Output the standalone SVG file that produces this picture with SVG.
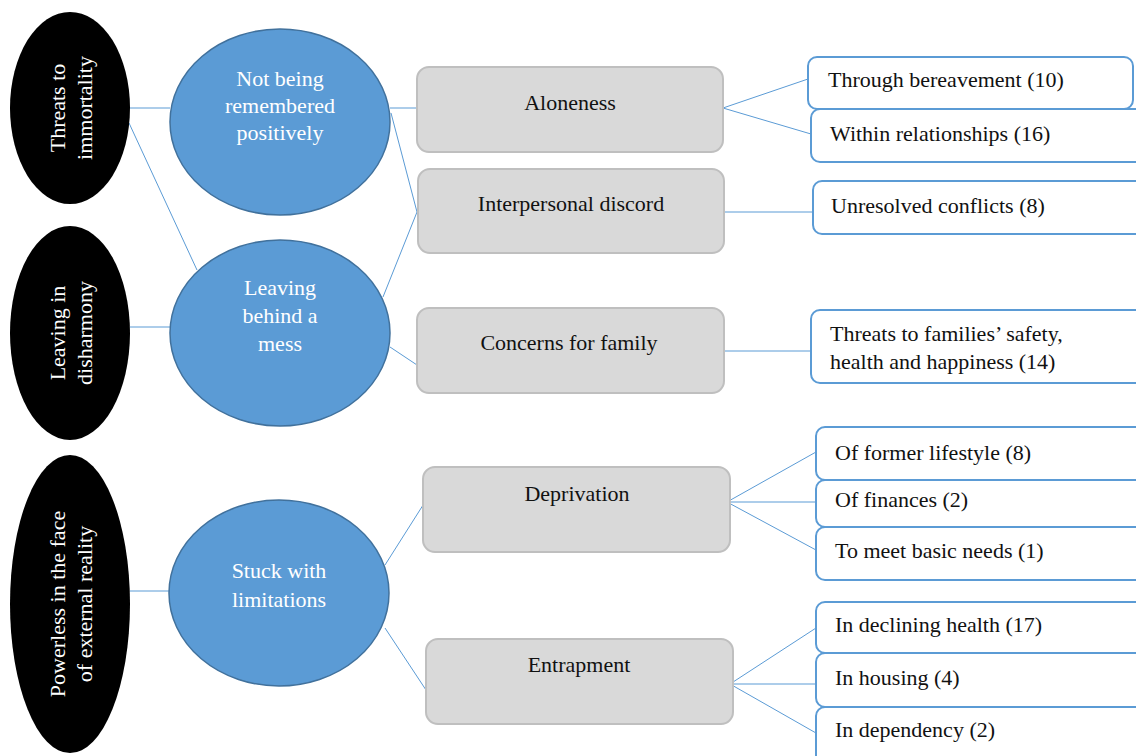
<svg xmlns="http://www.w3.org/2000/svg" width="1136" height="756" viewBox="0 0 1136 756">
<style>
text{font-family:"Liberation Serif","Times New Roman",serif;font-size:22px;}
.blk{fill:#000;}
.blu{fill:#5b9bd5;stroke:#41719c;stroke-width:1.5;}
.gry{fill:#d9d9d9;stroke:#bfbfbf;stroke-width:2;}
.wht{fill:#fff;stroke:#5b9bd5;stroke-width:2;}
.wt{fill:#fff;text-anchor:middle;}
.gt{fill:#111;text-anchor:middle;}
.rt{fill:#111;}
.cn line{stroke:#5b9bd5;stroke-width:1;}
</style>
<rect width="1136" height="756" fill="#fff"/>
<g class="cn" id="connectors">
<line x1="130" y1="108" x2="170" y2="108"/>
<line x1="129" y1="123" x2="197" y2="270"/>
<line x1="130" y1="327" x2="170" y2="327"/>
<line x1="130" y1="591" x2="169" y2="591"/>
<line x1="390" y1="108" x2="417" y2="108"/>
<line x1="391" y1="113" x2="417" y2="212"/>
<line x1="383" y1="297" x2="417" y2="212"/>
<line x1="390" y1="347" x2="417" y2="365"/>
<line x1="385" y1="565" x2="425" y2="502"/>
<line x1="385" y1="628" x2="426" y2="690"/>
<line x1="723" y1="108" x2="808" y2="79"/>
<line x1="723" y1="108" x2="811" y2="134"/>
<line x1="724" y1="212" x2="813" y2="212"/>
<line x1="724" y1="351" x2="811" y2="351"/>
<line x1="727" y1="502" x2="816" y2="452"/>
<line x1="727" y1="502" x2="816" y2="502"/>
<line x1="727" y1="502" x2="816" y2="550"/>
<line x1="730" y1="684" x2="816" y2="628"/>
<line x1="730" y1="684" x2="816" y2="684"/>
<line x1="730" y1="684" x2="816" y2="733"/>
</g>
<g id="threats-immortality">
<ellipse class="blk" cx="70" cy="108" rx="60" ry="96"/>
<text class="wt" transform="rotate(-90 70 108)"><tspan x="70" y="103">Threats to</tspan><tspan x="70" y="130">immortality</tspan></text>
</g>
<g id="leaving-disharmony">
<ellipse class="blk" cx="70" cy="333" rx="60" ry="107"/>
<text class="wt" transform="rotate(-90 70 333)"><tspan x="70" y="328">Leaving in</tspan><tspan x="70" y="355">disharmony</tspan></text>
</g>
<g id="powerless">
<ellipse class="blk" cx="70" cy="604" rx="60" ry="149"/>
<text class="wt" transform="rotate(-90 70 604)"><tspan x="70" y="599">Powerless in the face</tspan><tspan x="70" y="626">of external reality</tspan></text>
</g>
<g id="not-remembered">
<ellipse class="blu" cx="280" cy="122" rx="110" ry="93"/>
<text class="wt"><tspan x="280" y="86">Not being</tspan><tspan x="280" y="113">remembered</tspan><tspan x="280" y="140">positively</tspan></text>
</g>
<g id="leaving-mess">
<ellipse class="blu" cx="280" cy="333" rx="110" ry="93"/>
<text class="wt"><tspan x="280" y="295">Leaving</tspan><tspan x="280" y="323">behind a</tspan><tspan x="280" y="351">mess</tspan></text>
</g>
<g id="stuck-limitations">
<ellipse class="blu" cx="279" cy="593" rx="110" ry="93"/>
<text class="wt"><tspan x="279" y="578">Stuck with</tspan><tspan x="279" y="607">limitations</tspan></text>
</g>
<g id="aloneness">
<rect class="gry" x="417" y="67" width="306" height="85" rx="12"/>
<text class="gt" x="570" y="110">Aloneness</text>
</g>
<g id="interpersonal-discord">
<rect class="gry" x="418" y="169" width="306" height="84" rx="12"/>
<text class="gt" x="571" y="211">Interpersonal discord</text>
</g>
<g id="concerns-family">
<rect class="gry" x="417" y="308" width="307" height="85" rx="12"/>
<text class="gt" x="569" y="350">Concerns for family</text>
</g>
<g id="deprivation">
<rect class="gry" x="423" y="467" width="307" height="85" rx="12"/>
<text class="gt" x="577" y="501">Deprivation</text>
</g>
<g id="entrapment">
<rect class="gry" x="426" y="639" width="307" height="85" rx="12"/>
<text class="gt" x="579" y="672">Entrapment</text>
</g>
<g id="through-bereavement">
<rect class="wht" x="808" y="57" width="325" height="52" rx="9"/>
<text class="rt" x="828" y="87">Through bereavement (10)</text>
</g>
<g id="within-relationships">
<rect class="wht" x="811" y="109" width="340" height="53" rx="9"/>
<text class="rt" x="830" y="141">Within relationships (16)</text>
</g>
<g id="unresolved-conflicts">
<rect class="wht" x="813" y="181" width="340" height="53" rx="9"/>
<text class="rt" x="831" y="213">Unresolved conflicts (8)</text>
</g>
<g id="threats-families">
<rect class="wht" x="811" y="310" width="340" height="73" rx="9"/>
<text class="rt"><tspan x="830" y="341">Threats to families’ safety,</tspan><tspan x="830" y="369">health and happiness (14)</tspan></text>
</g>
<g id="former-lifestyle">
<rect class="wht" x="816" y="427" width="340" height="53" rx="9"/>
<text class="rt" x="835" y="460">Of former lifestyle (8)</text>
</g>
<g id="finances">
<rect class="wht" x="816" y="480" width="340" height="47" rx="9"/>
<text class="rt" x="835" y="507">Of finances (2)</text>
</g>
<g id="basic-needs">
<rect class="wht" x="816" y="527" width="340" height="53" rx="9"/>
<text class="rt" x="835" y="558">To meet basic needs (1)</text>
</g>
<g id="declining-health">
<rect class="wht" x="816" y="602" width="340" height="51" rx="9"/>
<text class="rt" x="835" y="632">In declining health (17)</text>
</g>
<g id="housing">
<rect class="wht" x="816" y="653" width="340" height="54" rx="9"/>
<text class="rt" x="835" y="685">In housing (4)</text>
</g>
<g id="dependency">
<rect class="wht" x="816" y="707" width="340" height="60" rx="9"/>
<text class="rt" x="835" y="737">In dependency (2)</text>
</g>
</svg>
